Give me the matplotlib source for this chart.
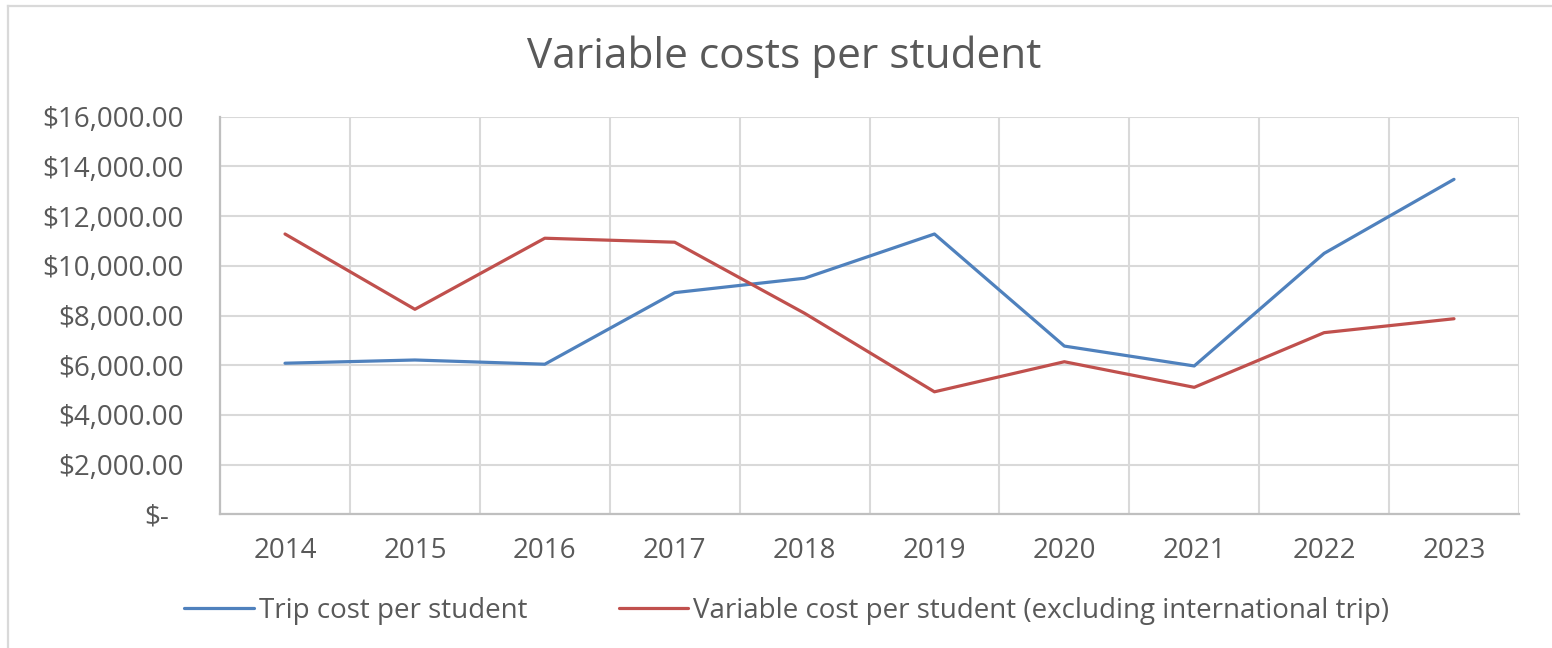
import matplotlib
matplotlib.use("Agg")
import matplotlib.pyplot as plt
from matplotlib.lines import Line2D
from matplotlib.transforms import ScaledTranslation

years = ["2014", "2015", "2016", "2017", "2018", "2019", "2020", "2021", "2022", "2023"]
trip_cost = [6080, 6210, 6040, 8920, 9500, 11280, 6770, 5970, 10500, 13480]
variable_cost = [11280, 8250, 11110, 10950, 8090, 4930, 6140, 5110, 7310, 7870]
y_ticks = [0, 2000, 4000, 6000, 8000, 10000, 12000, 14000, 16000]

plt.rcParams['font.family'] = ['Open Sans', 'DejaVu Sans']
text_col = '#595959'
grid_col = '#d9d9d9'

fig = plt.figure(figsize=(15.52, 6.48), dpi=100)
ax = fig.add_axes([0.1418, 0.2063, 0.8369, 0.6136])

x = list(range(len(years)))
ax.plot(x, trip_cost, color='#4f81bd', lw=2.3, solid_capstyle='round',
        solid_joinstyle='round', label='Trip cost per student', zorder=3)
ax.plot(x, variable_cost, color='#c0504d', lw=2.3, solid_capstyle='round',
        solid_joinstyle='round',
        label='Variable cost per student (excluding international trip)', zorder=3)

ax.set_xlim(-0.5, len(years) - 0.5)
ax.set_ylim(0, 16000)
ax.set_xticks(x)
ax.set_xticklabels(years)
ax.set_xticks([i - 0.5 for i in range(len(years) + 1)], minor=True)
ax.set_yticks(y_ticks)
ax.set_yticklabels(['$-'] + [f'${v:,.2f}' for v in y_ticks[1:]])

ax.grid(axis='x', which='minor', color=grid_col, lw=1.5)
ax.grid(axis='y', which='major', color=grid_col, lw=1.5)
ax.set_axisbelow(True)
ax.tick_params(axis='both', which='both', length=0, labelsize=20, labelcolor=text_col)
ax.tick_params(axis='y', pad=26)
ax.tick_params(axis='x', pad=16)

for s in ['top', 'right']:
    ax.spines[s].set_visible(False)
for s in ['left', 'bottom']:
    ax.spines[s].set_color('#bfbfbf')
    ax.spines[s].set_linewidth(1.6)

# accounting format: the dash sits left of the decimal column
zero_lbl = ax.yaxis.get_major_ticks()[0].label1
zero_lbl.set_transform(zero_lbl.get_transform() + ScaledTranslation(-15 / 100, 0, fig.dpi_scale_trans))

fig.text(0.505, 0.912, 'Variable costs per student', ha='center', va='center',
         fontsize=30.5, color=text_col)

fig.legend(loc='center', bbox_to_anchor=(0.507, 0.057), ncol=2, frameon=False,
           fontsize=20, labelcolor=text_col, handlelength=2.5, handletextpad=0.18,
           columnspacing=3.3)

# outer chart frame (cropped on right and bottom)
fig.add_artist(Line2D([8 / 1552, 8 / 1552], [0, 1 - 6 / 648], color=grid_col, lw=1.6,
                      transform=fig.transFigure))
fig.add_artist(Line2D([8 / 1552, 1], [1 - 6 / 648, 1 - 6 / 648], color=grid_col, lw=1.6,
                      transform=fig.transFigure))

fig.savefig('out.png', dpi=100)
